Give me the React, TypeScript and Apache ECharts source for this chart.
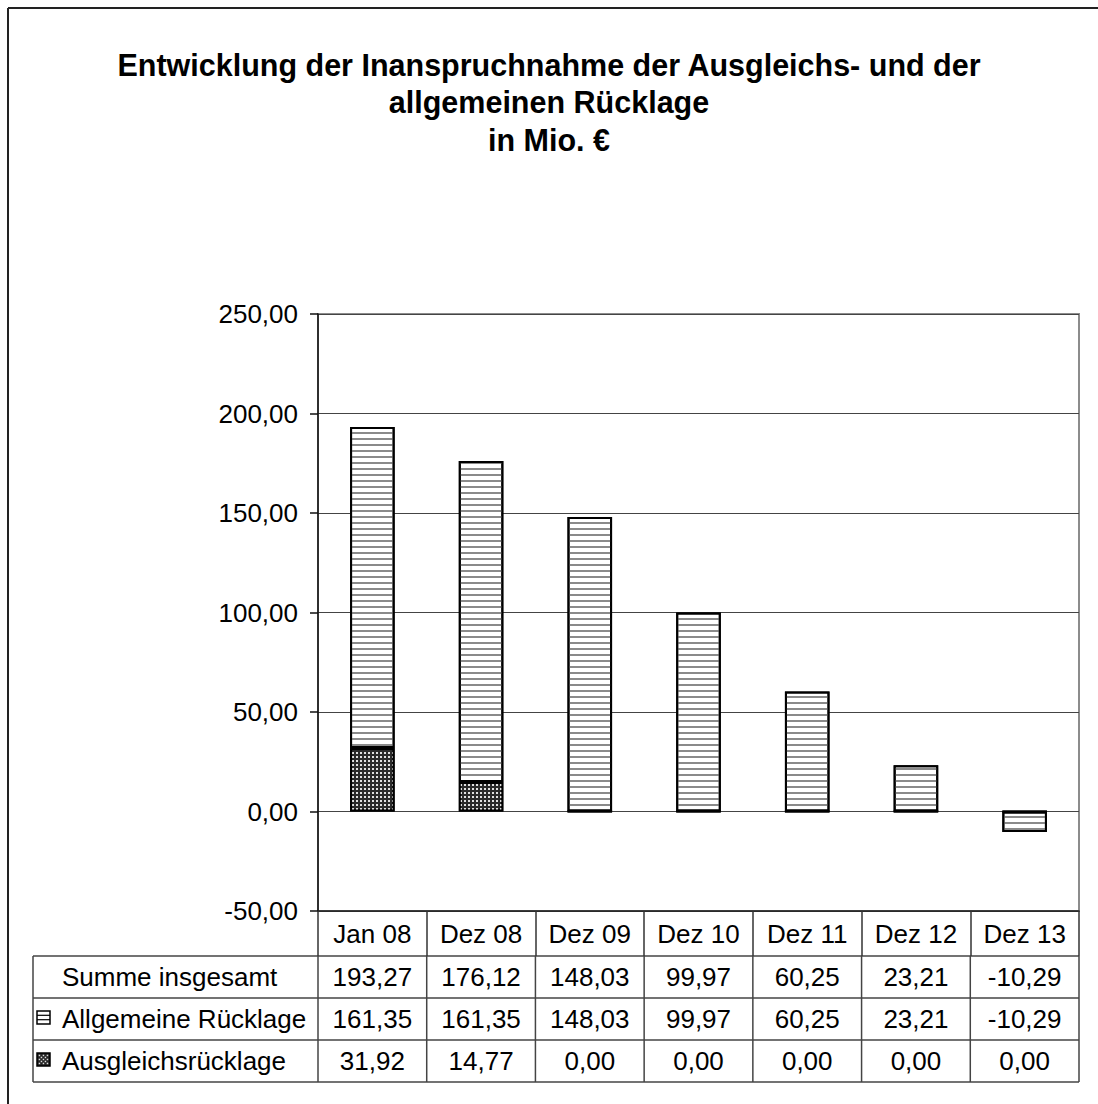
import React, { useEffect, useRef } from "react";
import * as echarts from "echarts";

const titleLines = [
  "Entwicklung der Inanspruchnahme der Ausgleichs- und der",
  "allgemeinen Rücklage",
  "in Mio. €",
];
const categories = ["Jan 08", "Dez 08", "Dez 09", "Dez 10", "Dez 11", "Dez 12", "Dez 13"];
const summe = [193.27, 176.12, 148.03, 99.97, 60.25, 23.21, -10.29];
const allgemeine = [161.35, 161.35, 148.03, 99.97, 60.25, 23.21, -10.29];
const ausgleich = [31.92, 14.77, 0.0, 0.0, 0.0, 0.0, 0.0];
const rowLabels = ["Summe insgesamt", "Allgemeine Rücklage", "Ausgleichsrücklage"];
const yMin = -50;
const yMax = 250;
const yStep = 50;

const FONT = "'Liberation Sans', Arial, Helvetica, sans-serif";
const fmt = (v: number) => v.toFixed(2).replace(".", ",");

// layout
const W = 1098;
const H = 1104;
const gridLeft = 318;
const gridRight = 1079;
const gridTop = 314;
const gridBottom = 911;
const tableLeft = 33;
const tableTop = 956;
const rowH = 42;
const FS = 26;

export default function App() {
  const ref = useRef<HTMLDivElement>(null);
  useEffect(() => {
    if (!ref.current) return;
    const chart = echarts.init(ref.current, null, { renderer: "svg" });
    const colW = (gridRight - gridLeft) / categories.length;
    const rows = [summe, allgemeine, ausgleich];
    const g: any[] = [];
    const lineColor = "#444";
    // outer frame
    g.push({ type: "line", shape: { x1: 8, y1: 8, x2: W, y2: 8 }, style: { stroke: "#222", lineWidth: 2 } });
    g.push({ type: "line", shape: { x1: 8, y1: 8, x2: 8, y2: H }, style: { stroke: "#222", lineWidth: 2 } });
    // table horizontal lines
    for (let r = 0; r <= rows.length; r++) {
      const y = tableTop + r * rowH;
      g.push({ type: "line", shape: { x1: tableLeft, y1: y, x2: gridRight, y2: y }, style: { stroke: lineColor, lineWidth: 1.5 } });
    }
    // table vertical lines
    const vx = [tableLeft];
    for (let i = 0; i <= categories.length; i++) vx.push(gridLeft + i * colW);
    vx.forEach((x) => {
      g.push({ type: "line", shape: { x1: x, y1: tableTop, x2: x, y2: tableTop + rows.length * rowH }, style: { stroke: lineColor, lineWidth: 1.5 } });
    });
    // table texts
    rows.forEach((arr, r) => {
      const cy = tableTop + r * rowH + rowH / 2;
      g.push({
        type: "text",
        x: 62,
        y: cy,
        style: { text: rowLabels[r], fontSize: FS, fontFamily: FONT, fill: "#000", align: "left", verticalAlign: "middle" },
      });
      arr.forEach((v, i) => {
        g.push({
          type: "text",
          x: gridLeft + (i + 0.5) * colW,
          y: cy,
          style: { text: fmt(v), fontSize: FS, fontFamily: FONT, fill: "#000", align: "center", verticalAlign: "middle" },
        });
      });
    });
    // legend icons
    const icY1 = tableTop + rowH * 1.5 - 8;
    g.push({ type: "rect", shape: { x: 37, y: icY1, width: 13, height: 13 }, style: { fill: "#fff", stroke: "#000", lineWidth: 1.5 } });
    g.push({ type: "line", shape: { x1: 37, y1: icY1 + 4.3, x2: 50, y2: icY1 + 4.3 }, style: { stroke: "#000", lineWidth: 1.2 } });
    g.push({ type: "line", shape: { x1: 37, y1: icY1 + 8.7, x2: 50, y2: icY1 + 8.7 }, style: { stroke: "#000", lineWidth: 1.2 } });
    const icY2 = tableTop + rowH * 2.5 - 8;
    g.push({ type: "rect", shape: { x: 37, y: icY2, width: 13, height: 13 }, style: { fill: "#222", stroke: "#000", lineWidth: 1.5 } });
    for (let a = 0; a < 5; a++) {
      for (let b = 0; b < 5; b++) {
        if ((a + b) % 2 === 0) {
          g.push({ type: "rect", shape: { x: 38.7 + a * 2, y: icY2 + 1.7 + b * 2, width: 1.5, height: 1.5 }, style: { fill: "#ddd" } });
        }
      }
    }

    chart.setOption({
      animation: false,
      backgroundColor: "#fff",
      title: {
        text: titleLines.join("\n"),
        left: "center",
        top: 41,
        textStyle: { fontSize: 30.5, fontWeight: "bold", fontFamily: FONT, color: "#000", lineHeight: 37.5 },
      },
      grid: {
        left: gridLeft,
        right: W - gridRight,
        top: gridTop,
        bottom: H - gridBottom,
        show: true,
        borderColor: "#8c8c8c",
        borderWidth: 2,
        containLabel: false,
      },
      xAxis: {
        type: "category",
        data: categories,
        position: "bottom",
        axisLine: { onZero: false, lineStyle: { color: "#222", width: 1.5 } },
        axisTick: { show: true, length: tableTop - gridBottom, interval: 0, lineStyle: { color: "#333", width: 1.5 } },
        axisLabel: { interval: 0, margin: 10, fontSize: FS, fontFamily: FONT, color: "#000" },
        splitLine: { show: false },
      },
      yAxis: {
        type: "value",
        min: yMin,
        max: yMax,
        interval: yStep,
        axisLine: { show: true, lineStyle: { color: "#111", width: 1.5 } },
        axisTick: { show: true, length: 8, lineStyle: { color: "#111", width: 1.5 } },
        axisLabel: { margin: 20, fontSize: FS, fontFamily: FONT, color: "#000", formatter: (v: number) => fmt(v) },
        splitLine: { show: true, lineStyle: { color: "#444", width: 1 } },
      },
      series: [
        {
          name: "Ausgleichsrücklage",
          type: "bar",
          stack: "total",
          data: ausgleich,
          barWidth: "41%",
          itemStyle: {
            color: "#2a2a2a",
            borderColor: "#000",
            borderWidth: 2,
            decal: { symbol: "rect", symbolSize: 1, dashArrayX: [2, 2], dashArrayY: [2, 2], color: "#e0e0e0" },
          },
        },
        {
          name: "Allgemeine Rücklage",
          type: "bar",
          stack: "total",
          data: allgemeine,
          barWidth: "41%",
          itemStyle: {
            color: "#fff",
            borderColor: "#000",
            borderWidth: 2,
            decal: { symbol: "rect", symbolSize: 1, dashArrayX: [1, 0], dashArrayY: [2, 4], color: "#8a8a8a" },
          },
        },
      ],
      graphic: g,
    });
    return () => chart.dispose();
  }, []);
  return <div ref={ref} style={{ position: "absolute", left: 0, top: 0, width: W, height: H }} />;
}
